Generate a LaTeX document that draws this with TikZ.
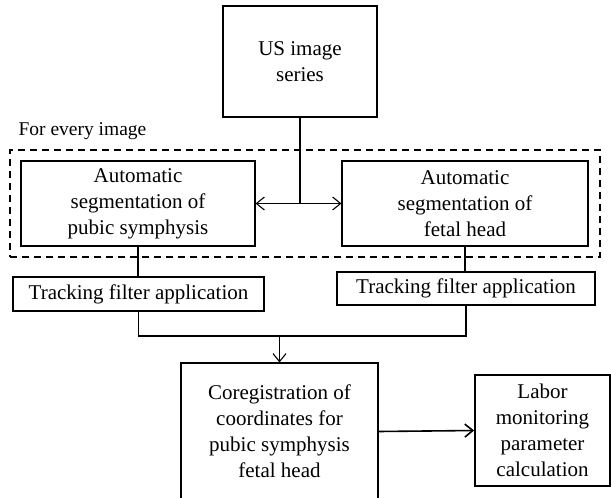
\documentclass[tikz,border=0pt]{standalone}
\usepackage{fontspec}
\setmainfont{Liberation Serif}
\usetikzlibrary{arrows.meta}

\begin{document}
\begin{tikzpicture}
[x=1pt,y=-1pt,
line width=1.1pt,
>={Straight Barb[length=8pt,width=13pt]},
block/.style={rectangle,draw,align=center,inner sep=0pt,font=\fontsize{21}{26}\selectfont},
thickblock/.style={block,line width=1.8pt},
frame/.style={rectangle,draw,dash pattern=on 7pt off 5pt,inner sep=0pt},
grouplabel/.style={inner sep=0pt,font=\fontsize{19.5}{24}\selectfont}]
\useasboundingbox (0,0) rectangle (611,498);
\clip (0,0) rectangle (611,498);
\node[thickblock,minimum width=154pt,minimum height=111pt] (us) at (300,61.5) {US image\\series};
\node[frame,minimum width=590pt,minimum height=107pt] (loop) at (305,203.5) {};
\node[grouplabel,anchor=base west] (every) at (18,135) {For every image};
\node[block,minimum width=234pt,minimum height=85pt] (segps) at (138,203.5) {Automatic\\segmentation of\\pubic symphysis};
\node[block,minimum width=246pt,minimum height=85pt] (segfh) at (465,203.5) {Automatic\\segmentation of\\fetal head};
\node[block,minimum width=251pt,minimum height=34pt] (trackps) at (138.5,294) {Tracking filter application};
\node[block,minimum width=258pt,minimum height=33pt] (trackfh) at (466,288.5) {Tracking filter application};
\node[block,minimum width=197pt,minimum height=137pt] (coreg) at (279.5,431.5) {Coregistration of\\coordinates for\\pubic symphysis\\fetal head};
\node[thickblock,minimum width=135pt,minimum height=111pt] (labor) at (542.5,430.5) {Labor\\monitoring\\parameter\\calculation};
\coordinate (merge) at (279.5,336);
\draw (us.south) -- (us.south|-segps.east);
\draw[<->] (segps.east) -- (segfh.west);
\draw (segps.south) -- (segps.south|-trackps.north);
\draw (segfh.south) -- (segfh.south|-trackfh.north);
\draw (trackps.south) |- (merge) -| (trackfh.south);
\draw[->] (merge) -- (coreg.north);
\draw[->,line width=1.6pt] (coreg.east) -- (labor.west);
\end{tikzpicture}
\end{document}
